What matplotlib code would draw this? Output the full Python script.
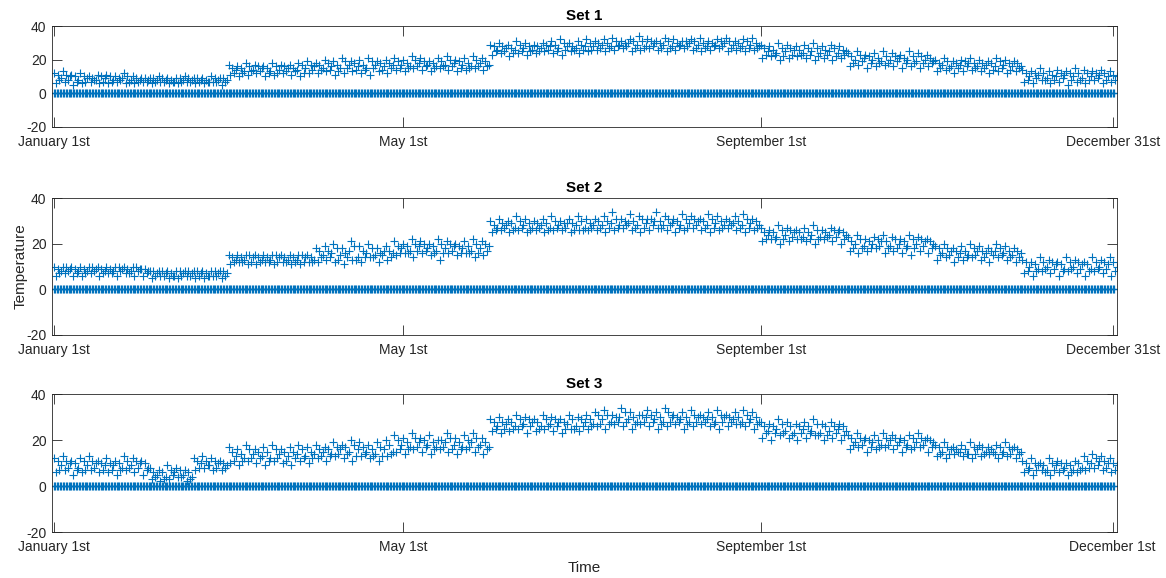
import numpy as np
import matplotlib
matplotlib.use('Agg')
import matplotlib.pyplot as plt

plt.rcParams['font.family'] = ['Liberation Sans', 'DejaVu Sans']
plt.rcParams['axes.unicode_minus'] = False

titles = ['Set 1', 'Set 2', 'Set 3']
tick_days = [0, 120, 243, 364]
tick_labels = [
    ['January 1st', 'May 1st', 'September 1st', 'December 31st'],
    ['January 1st', 'May 1st', 'September 1st', 'December 31st'],
    ['January 1st', 'May 1st', 'September 1st', 'December 1st'],
]

# one block every 3 days: high, upper-middle, middle, lower-middle, low reading
block_days = np.arange(0, 366, 3)
# sensor dropouts logged as 0 twice a day
zero_days = np.arange(0, 365, 0.5)

s1_hi = [12, 13, 11, 12, 10, 11,
         11, 10, 12, 10, 9,
         9, 10, 9, 9, 10,
         9, 9, 10, 9,
         17, 16, 18, 17, 16, 18, 17, 17, 18, 19,
         18, 20, 19, 21, 19, 20, 21, 19, 20,
         21, 20, 22, 21, 19, 21, 22, 20, 21, 22, 21,
         29, 30, 29, 31, 30, 29, 30, 31, 32, 30, 31, 32,
         31, 32, 33, 31, 32, 34, 32, 31, 33, 32, 31, 32, 33, 31, 32, 33, 31, 32, 33,
         29, 28, 30, 29, 28, 29, 30, 28, 29, 28,
         24, 25, 23, 24, 25, 24, 23, 25, 24, 23,
         20, 21, 19, 20, 21, 20, 19, 21, 20, 19,
         14, 13, 15, 13, 14, 13, 15, 14, 13, 14, 13]
s1_um = [11, 11, 10, 10, 9, 10,
         10, 9, 10, 9, 9,
         9, 9, 8, 9, 9,
         9, 8, 9, 9,
         15, 15, 16, 16, 15, 16, 16, 15, 17, 17,
         17, 18, 17, 19, 18, 17, 19, 18, 18,
         19, 18, 20, 19, 18, 19, 20, 19, 18, 20, 19,
         28, 28, 27, 29, 28, 28, 29, 29, 30, 28, 29, 30,
         30, 30, 31, 30, 31, 31, 31, 30, 31, 30, 31, 31, 30, 30, 31, 31, 30, 31, 30,
         27, 26, 27, 27, 26, 27, 27, 26, 27, 26,
         22, 23, 22, 21, 22, 22, 21, 22, 22, 21,
         18, 19, 18, 19, 18, 18, 18, 19, 18, 18,
         12, 12, 12, 11, 12, 12, 12, 12, 12, 12, 11]
s1_mid = [9, 10, 8, 9, 8, 9,
          8, 9, 8, 8, 8,
          8, 8, 7, 8, 8,
          8, 7, 8, 8,
          14, 13, 14, 15, 13, 14, 15, 14, 15, 16,
          15, 16, 15, 17, 16, 15, 17, 16, 17,
          17, 16, 18, 17, 16, 17, 18, 17, 16, 18, 17,
          26, 27, 26, 27, 26, 27, 28, 27, 28, 27, 28, 28,
          29, 28, 29, 30, 29, 28, 30, 29, 28, 29, 30, 29, 28, 29, 30, 29, 28, 29, 28,
          25, 24, 25, 26, 24, 25, 24, 25, 24, 25,
          20, 21, 20, 19, 20, 21, 20, 19, 20, 19,
          17, 16, 17, 18, 16, 17, 16, 17, 16, 16,
          10, 11, 9, 10, 11, 10, 9, 10, 11, 10, 10]
s1_lm = [8, 8, 7, 7, 8, 7,
         7, 8, 7, 7, 7,
         7, 7, 7, 7, 7,
         7, 7, 7, 7,
         12, 12, 13, 13, 12, 12, 13, 13, 12, 14,
         14, 14, 13, 15, 14, 14, 15, 14, 15,
         15, 15, 16, 16, 15, 16, 16, 15, 15, 16, 16,
         25, 25, 24, 25, 25, 25, 26, 25, 26, 26, 26, 26,
         27, 27, 28, 28, 27, 27, 28, 27, 27, 28, 28, 27, 27, 28, 28, 27, 27, 27, 27,
         23, 23, 22, 23, 23, 23, 22, 23, 22, 23,
         18, 19, 18, 18, 18, 19, 18, 18, 18, 18,
         15, 15, 15, 16, 15, 15, 14, 15, 14, 15,
         8, 9, 8, 8, 9, 8, 8, 8, 9, 8, 8]
s1_lo = [6, 7, 5, 6, 7, 6,
         6, 7, 6, 6, 7,
         6, 7, 6, 6, 7,
         6, 6, 7, 5,
         11, 10, 11, 12, 10, 11, 12, 11, 10, 12,
         12, 13, 11, 12, 13, 12, 11, 13, 12,
         14, 13, 15, 14, 13, 15, 14, 13, 14, 15, 14,
         23, 24, 22, 24, 23, 24, 25, 24, 23, 25, 24, 25,
         26, 25, 26, 27, 25, 26, 27, 26, 25, 26, 27, 26, 25, 26, 27, 25, 26, 25, 26,
         21, 22, 20, 21, 22, 21, 20, 21, 20, 21,
         16, 17, 15, 16, 17, 16, 15, 16, 15, 16,
         13, 14, 12, 13, 14, 13, 12, 13, 12, 13,
         7, 6, 8, 6, 7, 5, 7, 6, 8, 6, 7]

s2_hi = [10, 10, 10, 10, 10, 10,
         10, 10, 10, 10, 9,
         8, 8, 8, 8, 8,
         8, 8, 8, 8,
         15, 15, 15, 15, 15, 15, 15, 15, 15, 15,
         18, 19, 20, 18, 21, 19, 20, 18, 19,
         21, 20, 22, 21, 20, 22, 21, 20, 21, 22, 21,
         30, 31, 30, 32, 31, 30, 31, 32, 30, 31, 32, 31,
         31, 32, 34, 31, 33, 32, 31, 34, 32, 31, 33, 32, 31, 33, 32, 31, 32, 33, 31,
         27, 26, 28, 27, 26, 27, 28, 26, 27, 26,
         23, 24, 22, 23, 24, 23, 22, 24, 23, 22,
         19, 20, 18, 19, 20, 19, 18, 20, 19, 18,
         13, 12, 14, 13, 12, 14, 13, 12, 14, 13, 14]
s2_um = [9, 10, 9, 9, 10, 9,
         9, 10, 9, 10, 9,
         8, 8, 7, 8, 8,
         8, 7, 8, 8,
         14, 14, 15, 14, 14, 15, 14, 14, 15, 14,
         17, 17, 18, 16, 19, 17, 18, 16, 17,
         19, 19, 20, 20, 19, 20, 20, 19, 19, 20, 20,
         28, 29, 29, 30, 29, 29, 29, 30, 29, 29, 30, 29,
         30, 30, 31, 30, 30, 31, 31, 30, 31, 30, 31, 31, 30, 31, 30, 30, 30, 31, 30,
         25, 25, 26, 26, 25, 25, 26, 25, 26, 25,
         21, 22, 21, 22, 21, 22, 21, 22, 22, 21,
         18, 18, 17, 17, 18, 17, 17, 18, 17, 17,
         12, 11, 12, 12, 11, 12, 12, 11, 12, 12, 12]
s2_mid = [8, 9, 8, 8, 9, 8,
          8, 9, 8, 9, 8,
          7, 7, 6, 7, 7,
          7, 6, 7, 7,
          13, 13, 14, 13, 13, 14, 13, 13, 14, 13,
          15, 16, 15, 17, 14, 16, 15, 17, 16,
          18, 17, 19, 18, 17, 18, 19, 18, 17, 18, 19,
          27, 28, 27, 28, 27, 28, 27, 28, 29, 28, 27, 28,
          28, 29, 28, 29, 28, 29, 30, 28, 29, 28, 29, 30, 28, 29, 28, 29, 28, 29, 28,
          24, 23, 24, 25, 23, 24, 23, 24, 25, 24,
          20, 19, 20, 21, 19, 20, 19, 20, 21, 20,
          16, 17, 16, 15, 17, 16, 17, 16, 15, 16,
          10, 9, 10, 11, 9, 10, 11, 9, 10, 11, 10]
s2_lm = [7, 8, 7, 7, 8, 7,
         7, 8, 7, 8, 7,
         6, 6, 6, 6, 6,
         6, 6, 6, 6,
         12, 12, 12, 12, 12, 12, 12, 12, 12, 12,
         14, 14, 13, 14, 13, 14, 14, 15, 14,
         16, 16, 17, 17, 16, 16, 17, 16, 16, 16, 17,
         26, 27, 26, 27, 26, 27, 26, 27, 27, 26, 26, 27,
         27, 27, 27, 28, 27, 27, 28, 27, 28, 27, 27, 28, 27, 27, 27, 28, 27, 27, 27,
         22, 22, 22, 23, 22, 22, 22, 23, 23, 22,
         18, 18, 18, 19, 18, 18, 18, 18, 19, 18,
         15, 15, 14, 14, 15, 14, 15, 15, 14, 14,
         8, 8, 9, 9, 8, 9, 9, 8, 9, 9, 8]
s2_lo = [6, 7, 6, 6, 7, 6,
         7, 6, 7, 6, 6,
         5, 6, 5, 5, 6,
         5, 5, 6, 5,
         11, 12, 11, 11, 12, 11, 12, 11, 11, 12,
         12, 13, 12, 11, 13, 12, 14, 12, 13,
         15, 16, 14, 16, 15, 13, 16, 15, 16, 14, 15,
         25, 26, 25, 26, 25, 26, 25, 26, 26, 25, 26, 26,
         26, 25, 26, 27, 26, 25, 26, 27, 26, 25, 26, 27, 26, 25, 26, 27, 26, 25, 26,
         21, 22, 20, 21, 22, 21, 20, 22, 21, 20,
         17, 16, 17, 18, 16, 17, 16, 15, 17, 16,
         13, 14, 12, 13, 14, 13, 12, 14, 13, 12,
         7, 6, 8, 7, 6, 8, 7, 6, 8, 7, 6]

s3_hi = [12, 13, 11, 12, 13, 11,
         12, 11, 13, 12, 11,
         8, 7, 9, 8, 7,
         12, 13, 12, 11,
         17, 16, 18, 16, 17, 18, 16, 17, 18, 17,
         18, 17, 19, 18, 20, 19, 18, 19, 20,
         22, 21, 23, 21, 22, 20, 23, 21, 22, 23, 21,
         29, 30, 29, 31, 30, 29, 31, 30, 29, 31, 30, 31,
         32, 33, 31, 34, 32, 31, 33, 32, 34, 31, 32, 33, 31, 32, 33, 31, 32, 33, 32,
         28, 27, 29, 28, 27, 28, 29, 27, 28, 27,
         22, 23, 21, 22, 23, 22, 21, 22, 23, 21,
         18, 19, 17, 18, 19, 18, 17, 18, 19, 17,
         11, 12, 10, 12, 11, 10, 11, 13, 14, 13, 12]
s3_um = [11, 11, 10, 11, 11, 10,
         10, 10, 11, 11, 10,
         6, 6, 7, 7, 6,
         11, 11, 11, 10,
         15, 14, 16, 15, 15, 16, 15, 15, 16, 15,
         16, 16, 17, 17, 18, 17, 16, 17, 18,
         20, 19, 21, 20, 19, 20, 21, 19, 20, 21, 19,
         28, 28, 28, 29, 29, 28, 29, 29, 28, 29, 29, 29,
         31, 31, 30, 32, 30, 31, 31, 30, 32, 30, 30, 31, 30, 30, 31, 30, 30, 31, 30,
         26, 26, 27, 26, 26, 26, 27, 26, 26, 26,
         21, 21, 20, 20, 21, 21, 20, 21, 21, 20,
         17, 17, 16, 16, 17, 17, 16, 17, 17, 16,
         10, 10, 9, 10, 10, 9, 10, 11, 12, 11, 10]
s3_mid = [9, 10, 8, 9, 10, 9,
          9, 8, 9, 10, 8,
          5, 4, 6, 5, 4,
          10, 9, 10, 9,
          13, 12, 14, 13, 12, 14, 13, 14, 13, 14,
          15, 14, 16, 15, 16, 15, 14, 16, 15,
          18, 17, 19, 18, 17, 19, 18, 17, 19, 18, 17,
          26, 27, 26, 27, 28, 26, 27, 28, 27, 26, 28, 27,
          29, 28, 30, 29, 28, 30, 29, 28, 30, 29, 28, 30, 29, 28, 30, 29, 28, 29, 28,
          24, 25, 24, 23, 25, 24, 23, 24, 25, 24,
          19, 20, 19, 18, 20, 19, 18, 19, 20, 19,
          15, 16, 15, 14, 16, 15, 14, 15, 16, 15,
          8, 9, 7, 9, 8, 7, 8, 10, 11, 10, 9]
s3_lm = [7, 8, 7, 7, 8, 7,
         7, 7, 8, 8, 7,
         4, 3, 5, 4, 3,
         8, 9, 8, 8,
         11, 11, 12, 12, 11, 12, 11, 12, 12, 12,
         13, 13, 14, 14, 13, 14, 13, 13, 14,
         16, 16, 17, 17, 16, 17, 16, 16, 17, 17, 16,
         25, 25, 25, 26, 26, 25, 26, 26, 25, 25, 26, 26,
         27, 27, 28, 28, 27, 28, 28, 27, 28, 28, 27, 28, 28, 27, 28, 28, 27, 28, 27,
         23, 23, 23, 22, 23, 23, 22, 22, 23, 22,
         18, 18, 17, 17, 18, 18, 17, 17, 18, 17,
         14, 14, 15, 14, 14, 14, 15, 14, 14, 14,
         7, 7, 6, 7, 7, 6, 7, 8, 9, 8, 7]
s3_lo = [6, 7, 5, 6, 7, 6,
         6, 5, 7, 6, 5,
         3, 2, 3, 4, 2,
         7, 8, 7, 7,
         10, 9, 11, 10, 9, 11, 10, 9, 11, 10,
         12, 11, 13, 12, 11, 13, 12, 11, 13,
         15, 14, 16, 15, 14, 16, 15, 14, 16, 15, 14,
         24, 23, 24, 25, 23, 24, 25, 24, 23, 25, 24, 25,
         26, 25, 27, 26, 25, 27, 26, 25, 26, 27, 25, 26, 27, 26, 25, 26, 27, 26, 25,
         21, 20, 22, 21, 20, 21, 22, 20, 21, 20,
         16, 17, 15, 16, 17, 16, 15, 16, 17, 15,
         13, 12, 14, 13, 12, 13, 14, 12, 13, 12,
         6, 5, 7, 5, 6, 5, 6, 7, 8, 7, 6]

sets = [
    (s1_hi, s1_um, s1_mid, s1_lm, s1_lo),
    (s2_hi, s2_um, s2_mid, s2_lm, s2_lo),
    (s3_hi, s3_um, s3_mid, s3_lm, s3_lo),
]
for s in sets:
    for arr in s:
        assert len(arr) == len(block_days), len(arr)

zero_vals = np.zeros(len(zero_days))

W, H = 1166, 578
fig = plt.figure(figsize=(W / 100, H / 100), dpi=100)

# axes boxes in pixels: (top, bottom)
boxes = [(26, 127), (198, 335), (394, 532)]
left, right = 52, 1117

blue = '#0072BD'
dark = '#262626'
# time of each reading inside its 3-day block (hi, um, mid, lm, lo)
offsets = [0.0, 1.2, 2.4, 1.8, 0.6]

axs = []
for i, (top, bot) in enumerate(boxes):
    ax = fig.add_axes([left / W, 1 - bot / H, (right - left) / W, (bot - top) / H])

    ax.plot(zero_days, zero_vals, '+', color=blue, ms=6, mew=0.9)
    for off, vals in zip(offsets, sets[i]):
        ax.plot(block_days + off, vals, '+', color=blue, ms=6, mew=0.8)

    ax.set_xlim(-0.7, 365.5)
    ax.set_ylim(-20, 40)
    ax.set_yticks([-20, 0, 20, 40])
    ax.set_xticks(tick_days)
    ax.set_xticklabels(tick_labels[i])
    ax.set_title(titles[i], fontsize=11, fontweight='bold', pad=4)

    ax.tick_params(direction='in', length=7, width=0.6, colors=dark,
                   labelsize=10, top=True, right=True, pad=4)
    ax.tick_params(axis='x', pad=6)
    for sp in ax.spines.values():
        sp.set_color(dark)
        sp.set_linewidth(0.6)
    axs.append(ax)

axs[1].set_ylabel('Temperature', fontsize=11, color=dark, labelpad=-1)
axs[2].set_xlabel('Time', fontsize=11, color=dark, labelpad=5)

fig.savefig('out.png', dpi=100)
